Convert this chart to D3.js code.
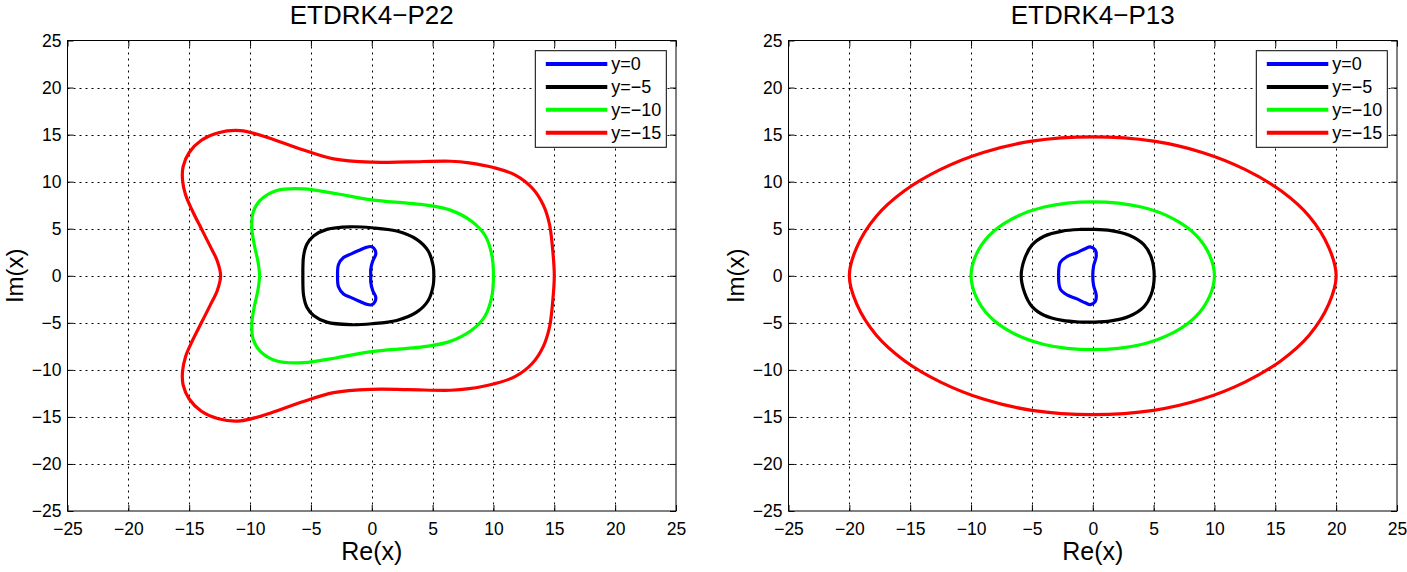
<!DOCTYPE html>
<html>
<head>
<meta charset="utf-8">
<script src="https://cdn.jsdelivr.net/npm/d3@7"></script>
<style>
  body { margin: 0; background: #fff; }
  svg { display: block; font-family: "Liberation Sans", Arial, sans-serif; }
  .grid line { stroke: #000; stroke-width: 1; stroke-dasharray: 2,4; }
  .tick text { font-size: 17.5px; fill: #000; }
</style>
</head>
<body>
<svg id="chart" width="1407" height="572"></svg>
<script>
// axis ticks, shared by both panels
const xTicks = [-25, -20, -15, -10, -5, 0, 5, 10, 15, 20, 25];
const yTicks = [-25, -20, -15, -10, -5, 0, 5, 10, 15, 20, 25];
const panelTitles = ["ETDRK4\u2212P22", "ETDRK4\u2212P13"];
const legendLabels = ["y=0", "y=\u22125", "y=\u221210", "y=\u221215"];

// boundary points [Re, Im], P22 panel
const p22Y0 = [[-2.81,0],[-2.73,1.2],[-2.32,1.93],[-1.64,2.35],[-0.96,2.74],[-0.46,3.02],[0,3.09],[0.27,2.74],[0.33,2.28],[0.08,1.57],[-0.08,0.69],[-0.08,0],
  [-0.08,-0.69],[0.08,-1.57],[0.33,-2.28],[0.27,-2.74],[0,-3.09],[-0.46,-3.02],[-0.96,-2.74],[-1.64,-2.35],[-2.32,-1.93],[-2.73,-1.2]];
const p22Y5 = [[5.1,0],[5.05,1.04],[4.64,2.63],[3.69,3.87],[2.05,4.75],[0,5.1],[-1.78,5.2],[-3.69,4.93],[-4.78,4.22],[-5.33,3.34],[-5.6,2.1],[-5.66,0],
  [-5.6,-2.1],[-5.33,-3.34],[-4.78,-4.22],[-3.69,-4.93],[-1.78,-5.2],[0,-5.1],[2.05,-4.75],[3.69,-3.87],[4.64,-2.63],[5.05,-1.04]];
const p22Y10 = [[10,0],[9.85,2.3],[9.3,4.3],[8.2,5.8],[6.4,7.0],[4.5,7.5],[2.9,7.72],[0,8.07],[-2.86,8.71],[-5.6,9.24],[-7.8,9.06],[-9.18,8.0],[-9.73,6.8],[-9.86,5.18],[-9.67,3.41],[-9.35,1.5],[-9.22,0],
  [-9.35,-1.5],[-9.67,-3.41],[-9.86,-5.18],[-9.73,-6.8],[-9.18,-8.0],[-7.8,-9.06],[-5.6,-9.24],[-2.86,-8.71],[0,-8.07],[2.9,-7.72],[4.5,-7.5],[6.4,-7.0],[8.2,-5.8],[9.3,-4.3],[9.85,-2.3]];
const p22Y15 = [[15,0],[14.85,3],[14.6,5.5],[14.1,7.5],[13.2,9.3],[11.8,10.7],[10,11.5],[8,12.0],[6.48,12.17],[3,12.1],[0,12.07],[-3.13,12.42],[-5.88,13.48],[-8.63,14.72],[-10.8,15.42],[-12.6,15.2],[-14.0,14.4],[-15.0,13.1],[-15.5,11.6],[-15.55,10.2],[-15.3,8.6],[-14.7,6.8],[-14.0,5.0],[-13.3,3.2],[-12.7,1.6],[-12.42,0],
  [-12.7,-1.6],[-13.3,-3.2],[-14.0,-5.0],[-14.7,-6.8],[-15.3,-8.6],[-15.55,-10.2],[-15.5,-11.6],[-15.0,-13.1],[-14.0,-14.4],[-12.6,-15.2],[-10.8,-15.42],[-8.63,-14.72],[-5.88,-13.48],[-3.13,-12.42],[0,-12.07],[3,-12.1],[6.48,-12.17],[8,-12.0],[10,-11.5],[11.8,-10.7],[13.2,-9.3],[14.1,-7.5],[14.6,-5.5],[14.85,-3]];

// P13 panel
const p13Y0 = [[-2.81,0],[-2.67,1.4],[-2.12,2.03],[-1.3,2.46],[-0.62,2.88],[-0.2,3.06],[0.2,2.74],[0.29,2.1],[0.07,1.04],[0,0],
  [0.07,-1.04],[0.29,-2.1],[0.2,-2.74],[-0.2,-3.06],[-0.62,-2.88],[-1.3,-2.46],[-2.12,-2.03],[-2.67,-1.4]];
const p13Y5 = [[5.05,0],[4.8,2.0],[4.2,3.3],[3,4.3],[1.5,4.8],[0,4.93],[-1,4.92],[-2.5,4.75],[-4,4.2],[-5,3.25],[-5.6,1.8],[-5.88,0],
  [-5.6,-1.8],[-5,-3.25],[-4,-4.2],[-2.5,-4.75],[-1,-4.92],[0,-4.93],[1.5,-4.8],[3,-4.3],[4.2,-3.3],[4.8,-2.0]];
const p13Y10 = [[10,0],[9.6,2.2],[8.5,4.3],[6.7,6.0],[4,7.3],[0,7.85],[-4,7.3],[-6.7,6.0],[-8.5,4.3],[-9.6,2.2],[-10,0],
  [-9.6,-2.2],[-8.5,-4.3],[-6.7,-6.0],[-4,-7.3],[0,-7.85],[4,-7.3],[6.7,-6.0],[8.5,-4.3],[9.6,-2.2]];
const p13Y15 = [[20,0],[19.4,3],[17.8,6.3],[15.5,9.0],[12.5,11.3],[9,13.1],[5,14.3],[0,14.75],[-5,14.3],[-9,13.1],[-12.5,11.3],[-15.5,9.0],[-17.8,6.3],[-19.4,3],[-20,0],
  [-19.4,-3],[-17.8,-6.3],[-15.5,-9.0],[-12.5,-11.3],[-9,-13.1],[-5,-14.3],[0,-14.75],[5,-14.3],[9,-13.1],[12.5,-11.3],[15.5,-9.0],[17.8,-6.3],[19.4,-3]];

const seriesColors = ["#0000ff", "#000000", "#00ff00", "#ff0000"];

const svg = d3.select("#chart");

function drawPanel(left, right, title, curves) {
	let top = 40.5, bottom = 511;
	let x = d3.scaleLinear().domain([-25, 25]).range([left, right]);
	let y = d3.scaleLinear().domain([-25, 25]).range([bottom, top]);
	let g = svg.append("g");

	// dotted grid
	let grid = g.append("g").attr("class", "grid");
	grid.selectAll(".gx").data(xTicks.slice(1, -1)).enter().append("line")
		.attr("x1", d => Math.round(x(d)) + 0.5).attr("x2", d => Math.round(x(d)) + 0.5)
		.attr("y1", top).attr("y2", bottom);
	grid.selectAll(".gy").data(yTicks.slice(1, -1)).enter().append("line")
		.attr("y1", d => Math.round(y(d)) + 0.5).attr("y2", d => Math.round(y(d)) + 0.5)
		.attr("x1", left).attr("x2", right);

	// curves
	let line = d3.line()
		.x(d => x(d[0])).y(d => y(d[1]))
		.curve(d3.curveCatmullRomClosed.alpha(0.5));
	g.selectAll(".curve").data(curves).enter().append("path")
		.attr("d", d => line(d))
		.attr("fill", "none")
		.attr("stroke", (d, i) => seriesColors[i])
		.attr("stroke-width", 3.2)
		.attr("stroke-linejoin", "round");

	// axes, ticks pointing inward on all four sides
	let ax = [
		[d3.axisBottom(x).tickValues(xTicks).tickPadding(12), "translate(0," + bottom + ")"],
		[d3.axisTop(x).tickValues(xTicks).tickFormat(""), "translate(0," + top + ")"],
		[d3.axisLeft(y).tickValues(yTicks).tickPadding(6), "translate(" + left + ",0)"],
		[d3.axisRight(y).tickValues(yTicks).tickFormat(""), "translate(" + right + ",0)"]
	];
	ax.forEach(function(a) {
		let sel = g.append("g").attr("transform", a[1])
			.call(a[0].tickSizeInner(-6).tickSizeOuter(0));
		sel.select(".domain").remove();
		sel.selectAll(".tick line").attr("stroke", "#000");
		sel.selectAll(".tick text").style("font-family", "inherit");
	});

	g.append("rect")
		.attr("x", left).attr("y", top)
		.attr("width", right - left).attr("height", bottom - top)
		.attr("fill", "none").attr("stroke", "#000").attr("stroke-width", 1);

	// title and axis labels
	g.append("text").attr("x", (left + right) / 2).attr("y", 23.5)
		.attr("text-anchor", "middle").style("font-size", "26px").text(title);
	g.append("text").attr("x", (left + right) / 2).attr("y", 560)
		.attr("text-anchor", "middle").style("font-size", "25px").text("Re(x)");
	g.append("text")
		.attr("transform", "translate(" + (left - 45) + "," + ((top + bottom) / 2) + ") rotate(-90)")
		.attr("text-anchor", "middle").style("font-size", "24px").text("Im(x)");

	// legend
	let lx = right - 9.7 - 131, ly = 50.7;
	let leg = g.append("g").attr("transform", "translate(" + lx + "," + ly + ")");
	leg.append("rect").attr("width", 131).attr("height", 96.6)
		.attr("fill", "#fff").attr("stroke", "#000").attr("stroke-width", 1);
	let rows = leg.selectAll(".row").data(legendLabels).enter().append("g")
		.attr("transform", (d, i) => "translate(0," + (13.3 + i * 22.9) + ")");
	rows.append("line").attr("x1", 10.5).attr("x2", 72)
		.attr("stroke", (d, i) => seriesColors[i]).attr("stroke-width", 4);
	rows.append("text").attr("x", 76).attr("dy", "0.36em")
		.style("font-size", "18px").text(d => d);
}

drawPanel(67.5, 676, panelTitles[0], [p22Y0, p22Y5, p22Y10, p22Y15]);
drawPanel(788.5, 1397, panelTitles[1], [p13Y0, p13Y5, p13Y10, p13Y15]);
</script>
</body>
</html>
